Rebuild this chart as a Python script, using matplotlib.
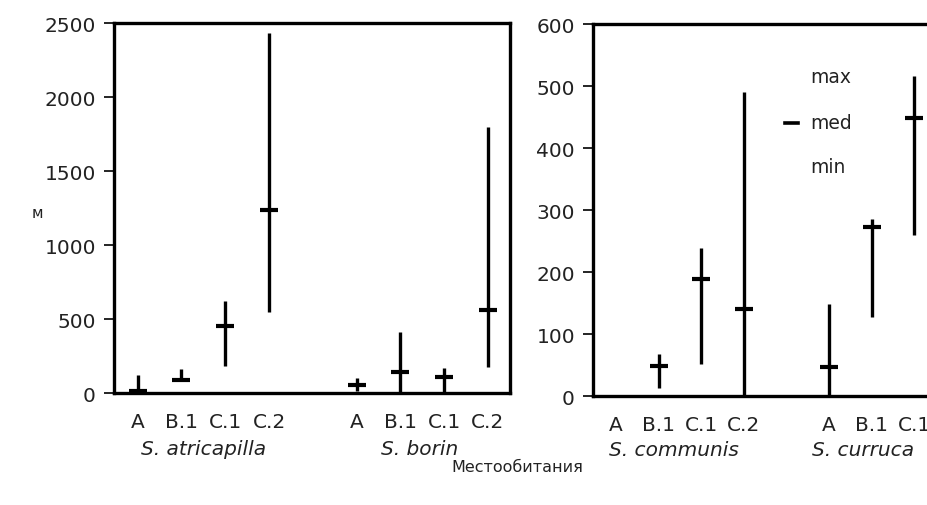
import numpy as np
import matplotlib
matplotlib.use("Agg")
import matplotlib.pyplot as plt

plt.rcParams['font.family'] = ['DejaVu Sans']

habitats = ["A", "B.1", "C.1", "C.2"]

# Left panel species
left_species = ["S. atricapilla", "S. borin"]
left_min = [[0, 80, 180, 550], [15, 0, 0, 175]]
left_med = [[15, 85, 450, 1235], [52, 142, 108, 558]]
left_max = [[125, 162, 625, 2435], [100, 412, 169, 1795]]

# Right panel species (communis A: no data; curruca C.2 outside view)
right_species = ["S. communis", "S. curruca"]
right_min = [[np.nan, 13, 51, 0], [0, 127, 260, np.nan]]
right_med = [[np.nan, 49, 189, 141], [47, 273, 449, np.nan]]
right_max = [[np.nan, 67, 239, 491], [148, 285, 516, np.nan]]

left_yticks = [0, 500, 1000, 1500, 2000, 2500]
right_yticks = [0, 100, 200, 300, 400, 500, 600]

fig = plt.figure(figsize=(9.27, 5.06), dpi=100)
axL = fig.add_axes([0.123, 0.2213, 0.427, 0.731])
axR = fig.add_axes([0.6397, 0.2154, 0.4153, 0.735])

positions = [[1, 2, 3, 4], [6, 7, 8, 9]]
TXT = '#222222'


def draw(ax, species, mins, meds, maxs, yticks, ylim, label_x, label_y):
    for g, sp in enumerate(species):
        xs = np.array(positions[g], dtype=float)
        mn = np.array(mins[g], dtype=float)
        md = np.array(meds[g], dtype=float)
        mx = np.array(maxs[g], dtype=float)
        ok = ~np.isnan(mn)
        ax.vlines(xs[ok], mn[ok], mx[ok], color='black', lw=2.4, zorder=3)
        ax.plot(xs[ok], md[ok], linestyle='none', marker='_', markersize=13,
                markeredgewidth=3, color='black', zorder=4)
    ax.set_ylim(*ylim)
    ax.set_yticks(yticks)
    ax.set_xlim(0.46, 9.5)
    allpos = positions[0] + positions[1]
    ax.set_xticks(allpos)
    ax.set_xticklabels(habitats * 2, fontsize=14.5, color=TXT)
    ax.tick_params(axis='x', length=0, pad=14)
    ax.tick_params(axis='y', direction='out', length=7, width=1.2,
                   labelsize=14.5, labelcolor=TXT, pad=6)
    for s in ax.spines.values():
        s.set_linewidth(2.4)
    for g, sp in enumerate(species):
        ax.text(label_x[g], label_y, sp, transform=ax.get_xaxis_transform(),
                ha='center', va='center', fontsize=14.5, style='italic', color=TXT)


draw(axL, left_species, left_min, left_med, left_max, left_yticks, (0, 2500),
     [2.5, 7.45], -0.151)
draw(axR, right_species, right_min, right_med, right_max, right_yticks, (0, 600),
     [2.35, 6.8], -0.1425)

# legend-like annotation in right panel
axR.text(5.55, 516, "max", fontsize=13.5, color=TXT, va='center', ha='left')
axR.text(5.55, 442, "med", fontsize=13.5, color=TXT, va='center', ha='left')
axR.text(5.55, 371, "min", fontsize=13.5, color=TXT, va='center', ha='left')
axR.plot([4.97, 5.27], [440, 440], color='black', lw=2.6)

fig.text(37 / 927, 1 - 213 / 506, "м", fontsize=11, color=TXT, ha='center', va='center')
fig.text(517 / 927, 1 - 468 / 506, "Местообитания", fontsize=11.5, color=TXT,
         ha='center', va='center')

fig.savefig("out.png", dpi=100)
